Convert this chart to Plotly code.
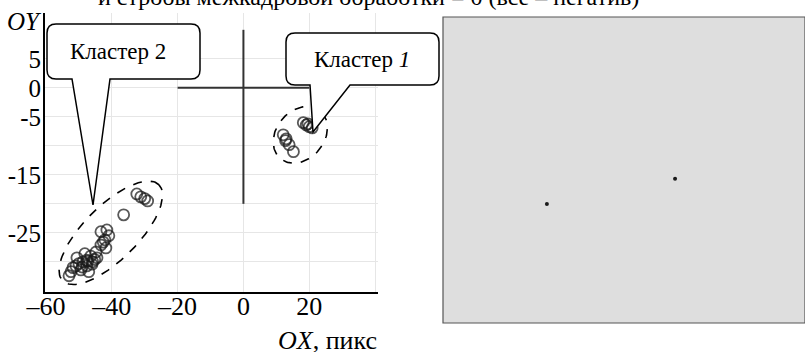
import numpy as np
import plotly.graph_objects as go

W, H = 805, 352

# cluster 1 (near the crosshair, upper right)
c1_x = [12.1, 13.0, 13.9, 15.2, 18.2, 19.1, 20.0, 20.9, 12.8, 19.6]
c1_y = [-8.1, -8.8, -9.8, -11.0, -6.0, -6.4, -6.7, -6.9, -9.1, -6.2]

# cluster 2 (lower left)
c2_x = [-32.4, -31.2, -30.0, -29.1, -36.4, -43.3, -41.5, -40.9, -42.1, -43.3, -41.8,
        -44.8, -46.4, -47.6, -48.8, -50.0, -50.9, -51.8, -52.4, -53.0, -49.4, -47.6,
        -45.8, -44.5, -47.0, -50.6, -48.2, -46.0, -47.3, -49.0, -45.2, -42.6]
c2_y = [-18.3, -18.8, -19.1, -19.5, -21.9, -24.8, -24.5, -25.5, -26.2, -27.1, -27.6,
        -28.3, -29.0, -29.7, -30.0, -30.3, -30.7, -31.0, -31.7, -32.4, -31.4, -30.7,
        -30.0, -29.3, -31.7, -29.3, -28.6, -30.4, -29.9, -30.9, -29.6, -26.6]

# right panel: two bright points (fractions of the frame)
dot_x = [0.287, 0.641]
dot_y = [0.389, 0.471]

x_ticks = [-60, -40, -20, 0, 20, 40]
x_ticktext = ["–60", "–40", "–20", "0", "20", ""]
y_ticks = [5, 0, -5, -10, -15, -20, -25, -30]
y_ticktext = ["5", "0", "-5", "", "-15", "", "-25", ""]

x_range = [-60.3, 40.9]
y_range = [-35.2, 12.9]
left_dom_x = [45 / W, 378 / W]
left_dom_y = [1 - 292 / H, 1 - 13 / H]


def px(x):
    return x / W


def py(y):
    return 1 - y / H


# pixels per data unit on the left plot
sx = (left_dom_x[1] - left_dom_x[0]) * W / (x_range[1] - x_range[0])
sy = (left_dom_y[1] - left_dom_y[0]) * H / (y_range[1] - y_range[0])


def ellipse(cx, cy, a, b, ang):
    # a, b, ang given in screen pixels/degrees, returned in data units
    t = np.linspace(0, 2 * np.pi, 120)
    r = np.radians(ang)
    ex = a * np.cos(t) * np.cos(r) - b * np.sin(t) * np.sin(r)
    ey = a * np.cos(t) * np.sin(r) + b * np.sin(t) * np.cos(r)
    return cx + ex / sx, cy + ey / sy


def callout(x0, y0, x1, y1, b0, b1, ax, ay, r=9):
    # rounded box with a pointer leaving the bottom edge, paper coords
    p = [f"M{px(x0 + r)},{py(y0)}", f"L{px(x1 - r)},{py(y0)}",
         f"Q{px(x1)},{py(y0)} {px(x1)},{py(y0 + r)}", f"L{px(x1)},{py(y1 - r)}",
         f"Q{px(x1)},{py(y1)} {px(x1 - r)},{py(y1)}", f"L{px(b1)},{py(y1)}",
         f"L{px(ax)},{py(ay)}", f"L{px(b0)},{py(y1)}", f"L{px(x0 + r)},{py(y1)}",
         f"Q{px(x0)},{py(y1)} {px(x0)},{py(y1 - r)}", f"L{px(x0)},{py(y0 + r)}",
         f"Q{px(x0)},{py(y0)} {px(x0 + r)},{py(y0)}", "Z"]
    return dict(type="path", xref="paper", yref="paper", path=" ".join(p),
                fillcolor="white", line=dict(color="black", width=1.5), layer="above")


marker = dict(symbol="circle-open", size=11, color="rgba(25,25,25,0.72)",
              line=dict(width=1.8))

fig = go.Figure()
e1x, e1y = ellipse(17.3, -8.1, 31, 24, 50)
e2x, e2y = ellipse(-40.3, -25.0, 68, 27, 45)
for ex, ey in [(e1x, e1y), (e2x, e2y)]:
    fig.add_trace(go.Scatter(x=ex, y=ey, mode="lines", hoverinfo="skip",
                             line=dict(color="black", width=1.6, dash="dash")))
fig.add_trace(go.Scatter(x=c1_x, y=c1_y, mode="markers", marker=marker))
fig.add_trace(go.Scatter(x=c2_x, y=c2_y, mode="markers", marker=marker))
fig.add_trace(go.Scatter(x=dot_x, y=dot_y, xaxis="x2", yaxis="y2", mode="markers",
                         marker=dict(size=4, color="#1a1a1a")))

serif = "Liberation Serif, Times New Roman, serif"
fig.update_layout(
    width=W, height=H, margin=dict(l=0, r=0, t=0, b=0, autoexpand=False),
    paper_bgcolor="white", plot_bgcolor="white", showlegend=False,
    font=dict(family=serif, size=22, color="black"),
    xaxis=dict(domain=left_dom_x, range=x_range, tickvals=x_ticks, ticktext=x_ticktext,
               showgrid=True, gridcolor="#e6e6e6", zeroline=False, showline=True,
               linecolor="black", linewidth=2, ticks="", tickfont=dict(size=26),
               ticklabelstandoff=-10, automargin=False),
    yaxis=dict(domain=left_dom_y, range=y_range, tickvals=y_ticks, ticktext=y_ticktext,
               showgrid=True, gridcolor="#e6e6e6", zeroline=False, showline=True,
               linecolor="black", linewidth=2, ticks="", tickfont=dict(size=25),
               ticklabelstandoff=-3, automargin=False),
    xaxis2=dict(domain=[443 / W, 1], range=[0, 1], visible=False, anchor="y2",
                automargin=False),
    yaxis2=dict(domain=[1 - 323 / H, 1 - 17 / H], range=[0, 1], visible=False,
                anchor="x2", automargin=False),
)

fig.add_shape(type="rect", xref="x2 domain", yref="y2 domain", x0=0, x1=1, y0=0, y1=1,
              fillcolor="#dedede", line=dict(color="#555555", width=1.2), layer="below")
fig.add_shape(type="line", x0=-20, x1=20, y0=0, y1=0, line=dict(color="#333333", width=2))
fig.add_shape(type="line", x0=0, x1=0, y0=10, y1=-20, line=dict(color="#333333", width=2))
fig.add_shape(callout(47, 24, 200, 79, 72, 110, 93, 205))
fig.add_shape(callout(286, 33, 439, 85, 310, 350, 313, 132))

ann = [
    ("Кластер 2", 118, 52, 23, "center"),
    ("Кластер <i>1</i>", 362, 60, 23, "center"),
    ("<i>OY</i>", 24, 21, 25, "center"),
    ("<i>OX</i>, пикс", 327, 340, 26, "center"),
    ("и стробы межкадровой обработки = 0 (все – негатив)", 96, -3, 24, "left"),
]
for text, x, y, size, anchor in ann:
    fig.add_annotation(text=text, x=px(x), y=py(y), xref="paper", yref="paper",
                       showarrow=False, xanchor=anchor, yanchor="middle",
                       font=dict(size=size, family=serif, color="black"))

fig.write_html("out.html", config={"displayModeBar": False},
               post_script="document.body.style.margin='0';document.body.style.overflow='hidden';")
